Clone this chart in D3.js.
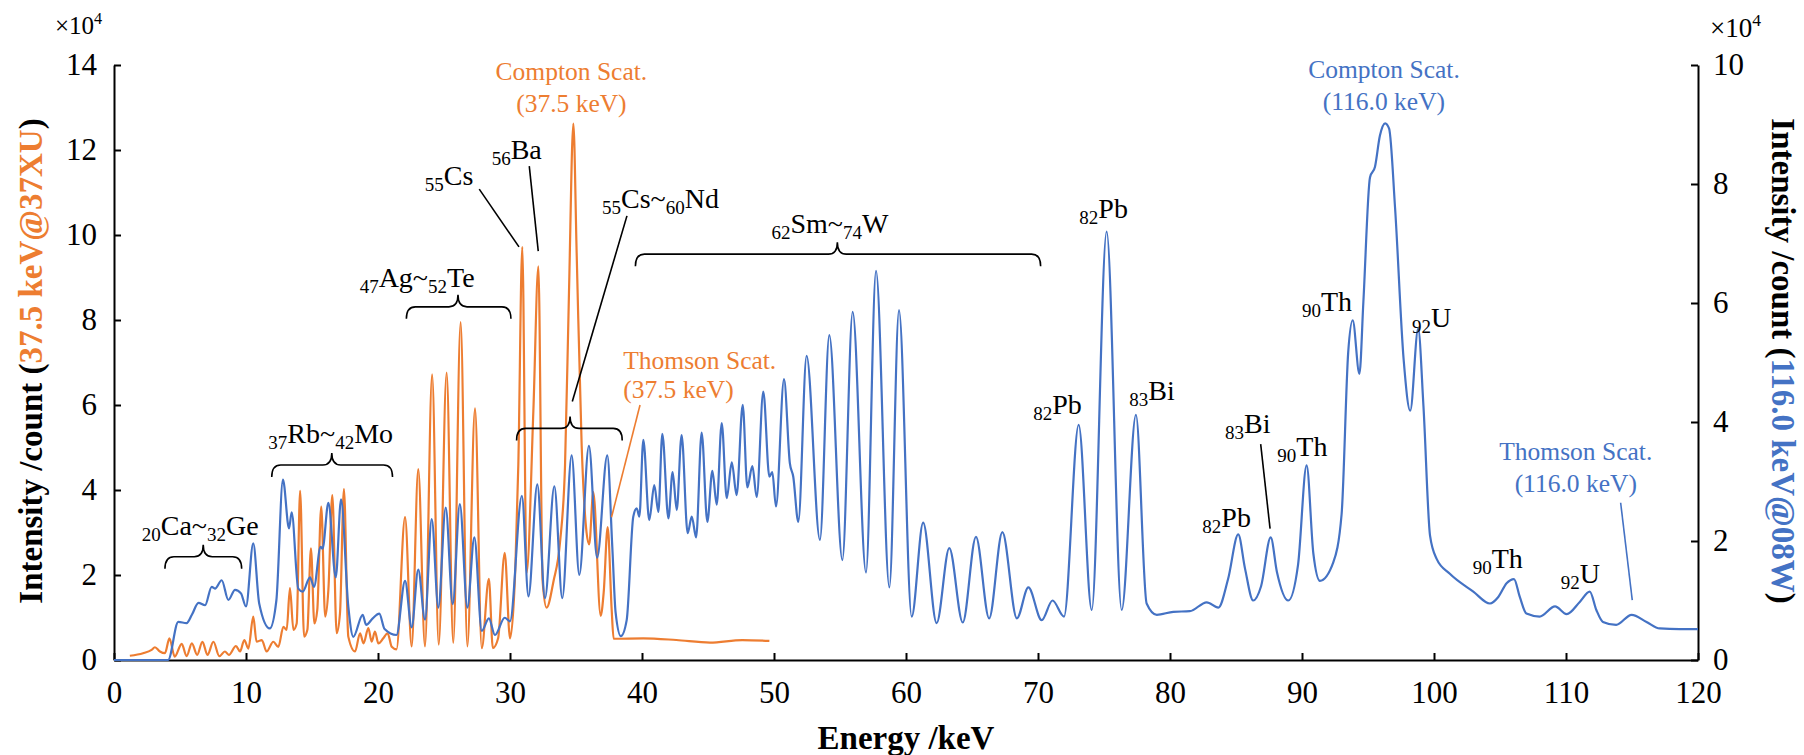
<!DOCTYPE html>
<html>
<head>
<meta charset="utf-8">
<script src="https://cdn.jsdelivr.net/npm/d3@7"></script>
<style>
  body { margin: 0; background: #fff; }
  svg { display: block; }
</style>
</head>
<body>
<svg id="chart" width="1804" height="755"></svg>
<script>
var orange = "#ED7D31", blue = "#4472C4";
var serif = "'Liberation Serif', 'Times New Roman', Times, serif";

var energyTicks = [0, 10, 20, 30, 40, 50, 60, 70, 80, 90, 100, 110, 120];
var leftTicks = [0, 2, 4, 6, 8, 10, 12, 14];
var rightTicks = [0, 2, 4, 6, 8, 10];

// 37.5 keV @ 37XU  [energy keV, count x10^4]  (left axis)
var spec37 = [
  [1.2,0.1],[2.2,0.16],[2.85,0.24],[3.1,0.3],[3.48,0.2],[3.86,0.16],[4.2,0.51],[4.6,0.08],
  [5.13,0.38],[5.5,0.09],[5.9,0.39],[6.3,0.12],[6.7,0.43],[7.08,0.12],[7.53,0.43],[7.98,0.09],
  [8.4,0.2],[8.7,0.12],[9.24,0.33],[9.55,0.2],[9.87,0.47],[10.18,0.27],[10.55,1.02],[10.8,0.43],
  [11.2,0.47],[11.56,0.2],[12.07,0.43],[12.45,0.31],[12.83,0.78],[13.08,0.71],[13.33,1.69],
  [13.59,0.71],[13.84,0.86],[14.1,3.98],[14.4,0.55],[14.65,0.71],[14.92,2.63],[15.18,0.86],
  [15.4,1.18],[15.7,3.61],[16.0,1.02],[16.24,1.65],[16.54,3.88],[16.87,0.63],[17.12,1.1],
  [17.42,4.02],[17.75,0.55],[18.26,0.2],[18.64,0.63],[18.9,0.39],[19.27,0.75],[19.52,0.43],
  [19.77,0.67],[20.03,0.39],[20.4,0.51],[20.73,0.63],[21.04,0.31],[21.4,0.25],[22.05,3.36],
  [22.55,0.32],[23.05,4.49],[23.56,0.32],[24.1,6.72],[24.6,0.36],[25.2,6.76],[25.7,0.4],
  [26.26,7.95],[26.77,0.32],[27.35,5.92],[27.86,0.28],[28.4,1.91],[28.7,0.28],[29.1,0.51],
  [29.6,2.52],[30.0,0.51],[30.4,2.13],[30.63,4.59],[30.93,9.72],[31.26,2.05],[31.77,5.86],
  [32.15,9.26],[32.47,1.86],[32.77,1.23],[33.3,1.86],[33.79,2.77],[34.17,4.59],[34.47,8.67],
  [34.8,12.62],[35.05,9.58],[35.43,5.04],[35.8,3.0],[36.0,2.72],[36.31,3.95],[36.87,1.04],
  [37.1,1.6],[37.4,3.13],[37.7,1.2],[37.85,0.5],[40.1,0.51],[42.6,0.47],[45.15,0.41],
  [47.6,0.47],[49.65,0.45]
];

// 116.0 keV @ 08W  [energy keV, count x10^4]  (right axis)
var spec116 = [
  [0,0],[4.1,0],[4.87,0.64],[5.5,0.62],[5.9,0.76],[6.4,0.96],[6.9,0.92],[7.4,1.23],[7.65,1.2],
  [8.16,1.34],[8.66,1.01],[9.17,1.18],[9.62,1.12],[10.0,0.9],[10.55,1.96],[11.0,0.95],[11.8,0.53],
  [12.3,1.0],[12.8,3.03],[13.26,2.21],[13.46,2.48],[13.96,1.2],[14.3,1.15],[14.85,1.39],[15.15,1.23],
  [15.65,1.9],[15.8,1.87],[16.24,2.64],[16.8,1.39],[17.2,2.7],[17.75,0.9],[18.13,0.39],[18.84,0.76],
  [19.1,0.59],[19.6,0.7],[20.1,0.78],[20.5,0.52],[21.4,0.42],[22.05,1.33],[22.55,0.55],[23.05,1.52],
  [23.56,0.68],[24.07,2.37],[24.57,0.88],[25.13,2.56],[25.66,0.94],[26.2,2.62],[26.77,0.88],
  [27.3,2.06],[27.86,0.49],[28.4,0.7],[28.86,0.42],[29.6,0.71],[30.0,0.65],[30.9,2.76],[31.4,1.07],
  [32.07,2.95],[32.65,1.04],[33.36,2.92],[33.96,1.04],[34.67,3.44],[35.25,1.43],[35.98,3.6],
  [36.6,1.72],[37.37,3.44],[37.75,1.9],[38.0,0.8],[38.4,0.4],[38.84,0.67],[39.34,2.41],[39.6,2.55],
  [39.8,2.41],[40.1,3.7],[40.55,2.35],[40.93,2.94],[41.24,2.49],[41.54,3.8],[42.0,2.38],[42.32,3.16],
  [42.63,2.52],[43.0,3.78],[43.46,2.13],[43.77,2.41],[44.1,2.06],[44.52,3.82],[44.95,2.32],
  [45.33,3.18],[45.66,2.61],[46.04,3.98],[46.42,2.72],[46.8,3.32],[47.17,2.77],[47.63,4.29],
  [47.98,2.9],[48.36,3.26],[48.69,2.74],[49.19,4.51],[49.65,3.08],[49.87,3.16],[50.15,2.58],
  [50.76,4.72],[51.2,3.31],[51.46,3.08],[51.84,2.32],[52.47,5.11],[53.48,2.02],[54.19,5.46],
  [55.18,1.68],[55.96,5.85],[56.97,1.47],[57.73,6.54],[58.74,1.22],[59.47,5.88],[60.43,0.73],
  [61.3,2.31],[62.32,0.62],[63.28,1.88],[64.3,0.63],[65.3,2.07],[66.3,0.7],[67.3,2.15],[68.4,0.7],
  [69.27,1.22],[70.28,0.67],[71.1,1.0],[71.97,0.73],[73.08,3.95],[74.07,0.84],[75.2,7.2],
  [76.34,0.84],[77.42,4.12],[78.23,0.95],[79.0,0.76],[80.25,0.81],[81.5,0.82],[82.78,0.97],
  [83.66,0.88],[84.4,1.36],[85.17,2.11],[85.68,1.54],[86.3,1.0],[86.9,1.24],[87.63,2.06],[88.1,1.48],
  [88.96,1.0],[89.7,1.6],[90.35,3.27],[90.86,1.79],[91.36,1.33],[92.37,1.64],[93.0,2.45],[93.5,5.17],
  [93.84,5.71],[94.35,4.81],[94.65,6.02],[95.15,8.11],[95.53,8.29],[95.9,8.81],[96.3,9.02],
  [96.6,8.93],[97.05,7.6],[97.7,5.05],[98.2,4.19],[98.8,5.57],[99.2,4.27],[99.7,2.09],[100.2,1.7],
  [101.2,1.45],[102.98,1.15],[104.24,0.95],[104.87,1.06],[105.5,1.29],[106.06,1.36],[106.5,1.06],
  [107.0,0.78],[108.0,0.73],[109.17,0.9],[110.05,0.77],[111.06,0.98],[111.8,1.15],[112.3,0.84],
  [112.8,0.64],[113.8,0.59],[114.97,0.76],[116.1,0.64],[117.1,0.53],[118.6,0.52],[120,0.52]
];

// annotations, in energy / left-axis units
var braces = [   // from, to, middle, height
  [3.86, 9.67, 6.76, 2.43],
  [11.95, 21.1, 16.5, 4.59],
  [22.15, 30.07, 26.06, 8.31],
  [30.5, 38.5, 34.55, 5.45],
  [39.5, 70.2, 54.8, 9.55]
];

var elements = [  // [sub, text, sub, text...], left energy, baseline
  [["20","Ca~","32","Ge"], 2.1, 2.94],
  [["37","Rb~","42","Mo"], 11.69, 5.10],
  [["47","Ag~","52","Te"], 18.61, 8.78],
  [["55","Cs"], 23.55, 11.18],
  [["56","Ba"], 28.61, 11.8],
  [["55","Cs~","60","Nd"], 36.97, 10.63],
  [["62","Sm~","74","W"], 49.81, 10.04],
  [["82","Pb"], 73.13, 10.39],
  [["82","Pb"], 69.64, 5.8],
  [["83","Bi"], 76.92, 6.12],
  [["82","Pb"], 82.45, 3.12],
  [["83","Bi"], 84.17, 5.34],
  [["90","Th"], 88.13, 4.79],
  [["90","Th"], 90.0, 8.22],
  [["92","U"], 98.33, 7.84],
  [["90","Th"], 102.93, 2.16],
  [["92","U"], 109.6, 1.82]
];

var scatLabels = [  // lines, energy, baselines, series, anchor
  [["Compton Scat.", "(37.5 keV)"], 34.65, [13.65, 12.89], "37", "middle"],
  [["Compton Scat.", "(116.0 keV)"], 96.21, [13.69, 12.94], "116", "middle"],
  [["Thomson Scat.", "(37.5 keV)"], 38.58, [6.85, 6.16], "37", "start"],
  [["Thomson Scat.", "(116.0 keV)"], 110.74, [4.71, 3.96], "116", "middle"]
];

var leaders = [  // e1, y1, e2, y2, series
  [27.67, 11.08, 30.68, 9.72, ""],
  [31.46, 11.62, 32.14, 9.62, ""],
  [38.86, 10.45, 34.72, 6.08, ""],
  [39.85, 6.0, 37.69, 3.36, "37"],
  [86.87, 5.08, 87.58, 3.09, ""],
  [114.14, 3.70, 115.02, 1.41, "116"]
];

function col(s) { return s == "37" ? orange : (s == "116" ? blue : "#000"); }

var svg = d3.select("#chart");

var x = d3.scaleLinear().domain([0, 120]).range([114, 1698]);
var yL = d3.scaleLinear().domain([0, 14]).range([660, 65]);
var yR = d3.scaleLinear().domain([0, 10]).range([660, 65]);

function styleAxis(g) {
  g.attr("font-size", 31).attr("font-family", serif);
  g.selectAll("path, line").attr("stroke", "#000").attr("stroke-width", 2);
  g.selectAll("text").attr("fill", "#000");
}

svg.append("g").attr("transform", "translate(0,660)")
  .call(d3.axisBottom(x).tickValues(energyTicks).tickSize(-7).tickSizeOuter(0).tickPadding(21))
  .call(styleAxis);
svg.append("g").attr("transform", "translate(114,0)")
  .call(d3.axisLeft(yL).tickValues(leftTicks).tickSize(-7).tickSizeOuter(0).tickPadding(17))
  .call(styleAxis);
svg.append("g").attr("transform", "translate(1698,0)")
  .call(d3.axisRight(yR).tickValues(rightTicks).tickSize(-7).tickSizeOuter(0).tickPadding(15))
  .call(styleAxis);

// spectra
var line37 = d3.line().x(function(d){ return x(d[0]); }).y(function(d){ return yL(d[1]); }).curve(d3.curveMonotoneX);
var line116 = d3.line().x(function(d){ return x(d[0]); }).y(function(d){ return yR(d[1]); }).curve(d3.curveMonotoneX);

svg.append("path").datum(spec37).attr("d", line37)
  .attr("fill", "none").attr("stroke", orange).attr("stroke-width", 2.2).attr("stroke-linejoin", "round");
svg.append("path").datum(spec116).attr("d", line116)
  .attr("fill", "none").attr("stroke", blue).attr("stroke-width", 2.2).attr("stroke-linejoin", "round");

// braces
function bracePath(b) {
  var x1 = x(b[0]), x2 = x(b[1]), xc = x(b[2]), h = yL(b[3]);
  return "M" + x1 + "," + (h + 12) +
    "Q" + x1 + "," + h + " " + (x1 + 9) + "," + h +
    "L" + (xc - 9) + "," + h +
    "Q" + xc + "," + h + " " + xc + "," + (h - 12) +
    "Q" + xc + "," + h + " " + (xc + 9) + "," + h +
    "L" + (x2 - 9) + "," + h +
    "Q" + x2 + "," + h + " " + x2 + "," + (h + 12);
}
svg.selectAll(".brace").data(braces).enter().append("path")
  .attr("class", "brace").attr("d", bracePath)
  .attr("fill", "none").attr("stroke", "#000").attr("stroke-width", 1.6);

// leader lines
svg.selectAll(".leader").data(leaders).enter().append("line")
  .attr("class", "leader")
  .attr("x1", function(d){ return x(d[0]); }).attr("y1", function(d){ return yL(d[1]); })
  .attr("x2", function(d){ return x(d[2]); }).attr("y2", function(d){ return yL(d[3]); })
  .attr("stroke", function(d){ return col(d[4]); }).attr("stroke-width", 1.6);

// element labels with subscripts
elements.forEach(function(el) {
  var t = svg.append("text").attr("x", x(el[1])).attr("y", yL(el[2]))
    .attr("font-family", serif).attr("fill", "#000");
  el[0].forEach(function(p, i) {
    var sub = i % 2 == 0;
    t.append("tspan").text(p)
      .attr("font-size", sub ? 19 : 28)
      .attr("dy", sub ? 6 : -6);
  });
});

// scattering labels
scatLabels.forEach(function(s) {
  s[0].forEach(function(txt, i) {
    svg.append("text").attr("x", x(s[1])).attr("y", yL(s[2][i]))
      .attr("text-anchor", s[4]).attr("font-family", serif).attr("font-size", 25.5)
      .attr("fill", col(s[3])).text(txt);
  });
});

// x10^4 markers
function power(xp, yp, size) {
  var t = svg.append("text").attr("x", xp).attr("y", yp)
    .attr("font-family", serif).attr("font-size", size).attr("fill", "#000");
  t.append("tspan").text("\u00d710");
  t.append("tspan").text("4").attr("font-size", size * 0.65).attr("dy", -size * 0.42);
}
power(55, 34, 25);
power(1710, 37, 27);

// axis titles
svg.append("text").attr("x", (114 + 1698) / 2).attr("y", 749)
  .attr("text-anchor", "middle").attr("font-family", serif).attr("font-size", 33)
  .attr("font-weight", "bold").text("Energy /keV");

function yTitle(xp, rot, mid, c) {
  var t = svg.append("text").attr("transform", "translate(" + xp + ",361) rotate(" + rot + ")")
    .attr("text-anchor", "middle").attr("font-family", serif).attr("font-size", 33)
    .attr("font-weight", "bold").attr("fill", "#000");
  t.append("tspan").text("Intensity /count (");
  t.append("tspan").text(mid).attr("fill", c);
  t.append("tspan").text(")");
}
yTitle(42, -90, "37.5 keV@37XU", orange);
yTitle(1772, 90, "116.0 keV@08W", blue);
</script>
</body>
</html>
